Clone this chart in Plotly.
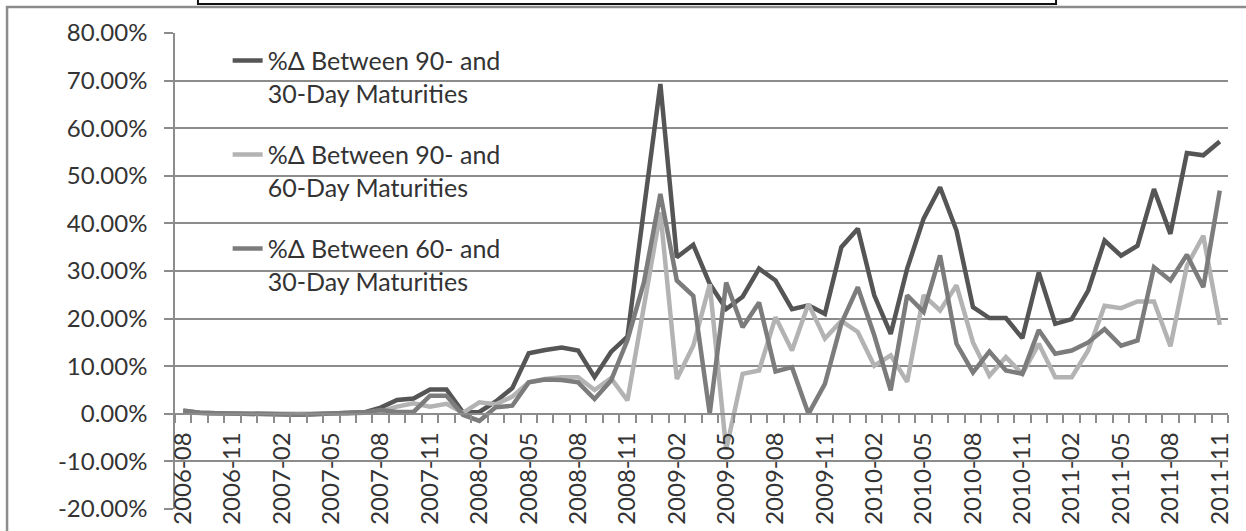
import plotly.graph_objects as go

months = [
    "2006-08", "2006-09", "2006-10", "2006-11", "2006-12",
    "2007-01", "2007-02", "2007-03", "2007-04", "2007-05", "2007-06",
    "2007-07", "2007-08", "2007-09", "2007-10", "2007-11", "2007-12",
    "2008-01", "2008-02", "2008-03", "2008-04", "2008-05", "2008-06",
    "2008-07", "2008-08", "2008-09", "2008-10", "2008-11", "2008-12",
    "2009-01", "2009-02", "2009-03", "2009-04", "2009-05", "2009-06",
    "2009-07", "2009-08", "2009-09", "2009-10", "2009-11", "2009-12",
    "2010-01", "2010-02", "2010-03", "2010-04", "2010-05", "2010-06",
    "2010-07", "2010-08", "2010-09", "2010-10", "2010-11", "2010-12",
    "2011-01", "2011-02", "2011-03", "2011-04", "2011-05", "2011-06",
    "2011-07", "2011-08", "2011-09", "2011-10", "2011-11",
]

# % change between 90- and 30-day maturities
spread_90_30 = [
    0.6, 0.2, 0.1, 0.1, 0.0, -0.1, -0.1, -0.2, -0.1, 0.0, 0.0,
    0.3, 1.3, 2.9, 3.2, 5.1, 5.1, 0.3, 0.4, 2.6, 5.4, 12.7, 13.4,
    13.9, 13.3, 7.7, 13.0, 16.2, 43.0, 69.3, 32.9, 35.5, 27.3, 22.0, 24.6,
    30.5, 28.0, 22.0, 22.8, 21.0, 35.0, 38.9, 24.9, 16.8, 30.5, 41.0, 47.6,
    38.5, 22.4, 20.1, 20.1, 15.9, 29.7, 18.9, 19.9, 25.9, 36.4, 33.2, 35.3,
    47.2, 37.8, 54.8, 54.3, 57.2,
]

# % change between 90- and 60-day maturities
spread_90_60 = [
    0.3, 0.1, 0.0, 0.0, 0.0, -0.1, -0.1, -0.2, -0.1, 0.0, 0.0,
    0.2, 0.5, 1.5, 2.2, 1.5, 2.1, 0.2, 2.4, 2.0, 3.6, 6.6, 7.3,
    7.7, 7.7, 5.0, 7.5, 2.8, 22.0, 42.3, 7.3, 14.3, 27.2, -7.5, 8.4,
    9.1, 20.3, 13.3, 23.1, 15.8, 19.5, 17.2, 10.1, 12.3, 6.7, 24.9, 21.7,
    27.0, 15.0, 8.0, 11.9, 8.4, 14.7, 7.7, 7.7, 13.3, 22.7, 22.2, 23.6,
    23.6, 14.2, 31.1, 37.4, 18.7,
]

# % change between 60- and 30-day maturities
spread_60_30 = [
    0.7, 0.2, 0.1, 0.1, 0.0, -0.1, -0.1, -0.2, -0.1, 0.0, 0.0,
    0.3, 0.8, 0.4, 0.4, 3.8, 3.8, -0.2, -1.5, 1.4, 1.7, 6.6, 7.2,
    7.1, 6.6, 3.1, 7.0, 15.5, 27.6, 46.2, 28.0, 24.8, 0.0, 27.6, 18.2,
    23.4, 8.9, 9.8, 0.0, 6.3, 19.0, 26.6, 16.5, 4.9, 24.9, 21.4, 33.3,
    14.7, 8.7, 13.1, 9.1, 8.4, 17.6, 12.6, 13.3, 15.0, 17.8, 14.3, 15.4,
    30.8, 28.0, 33.4, 26.6, 46.9,
]

series_names = [
    "%Δ Between 90- and<br>30-Day Maturities",
    "%Δ Between 90- and<br>60-Day Maturities",
    "%Δ Between 60- and<br>30-Day Maturities",
]
series_values = [spread_90_30, spread_90_60, spread_60_30]
series_colors = ["#555555", "#b3b3b3", "#7c7c7c"]

x_tick_labels = months[::3]
y_tick_values = [-20, -10, 0, 10, 20, 30, 40, 50, 60, 70, 80]
y_tick_labels = ["-20.00%", "-10.00%", "0.00%", "10.00%", "20.00%", "30.00%",
                 "40.00%", "50.00%", "60.00%", "70.00%", "80.00%"]

FONT = "Lato"
GRID = "#8c8c8c"
TEXT = "#333333"

fig = go.Figure()
for name, vals, col, grp in zip(series_names, series_values, series_colors, ["a", "b", "c"]):
    fig.add_trace(go.Scatter(
        x=months, y=vals, mode="lines", name=name, legendgroup=grp,
        line=dict(color=col, width=4.5),
        hovertemplate="%{x}: %{y:.2f}%<extra></extra>",
    ))

# helper trace so the boundary-tick axis exists
fig.add_trace(go.Scatter(x=[], y=[], xaxis="x2", showlegend=False, hoverinfo="skip"))

n = len(months)
fig.update_layout(
    width=1246, height=531,
    margin=dict(l=175, r=18, t=33, b=22, autoexpand=False),
    paper_bgcolor="white", plot_bgcolor="white",
    font=dict(family=FONT, size=24, color=TEXT),
    showlegend=True,
    legend=dict(
        x=0.05, y=0.99, xanchor="left", yanchor="top",
        bgcolor="rgba(0,0,0,0)", font=dict(family=FONT, size=25, color=TEXT),
        traceorder="grouped", tracegroupgap=26, valign="top",
    ),
    xaxis=dict(
        type="category", categoryorder="array", categoryarray=months,
        range=[-0.5, n - 0.5], automargin=False,
        tickmode="array", tickvals=x_tick_labels, ticktext=x_tick_labels,
        tickangle=-90, ticks="outside", ticklen=8, tickcolor="rgba(0,0,0,0)",
        ticklabelstandoff=0,
        showgrid=False, showline=False, zeroline=False,
        anchor="free", position=0.2,
        tickfont=dict(family=FONT, size=24, color=TEXT),
    ),
    xaxis2=dict(
        overlaying="x", type="linear", range=[-0.5, n - 0.5], automargin=False,
        tickmode="linear", tick0=-0.5, dtick=1,
        ticks="outside", ticklen=8, tickwidth=1.5, tickcolor=GRID,
        showticklabels=False, showgrid=False, zeroline=False,
        showline=True, linecolor=GRID, linewidth=1.5,
        anchor="free", position=0.2,
    ),
    yaxis=dict(
        range=[-20, 80], tickmode="array", tickvals=y_tick_values,
        ticktext=y_tick_labels, automargin=False,
        showgrid=True, gridcolor=GRID, gridwidth=1.5,
        showline=True, linecolor=GRID, linewidth=1.5,
        ticks="outside", ticklen=9, tickwidth=1.5, tickcolor=GRID,
        ticklabelstandoff=12, zeroline=False,
        tickfont=dict(family=FONT, size=24, color=TEXT),
    ),
    shapes=[
        # outer chart border
        dict(type="rect", xref="paper", yref="paper",
             x0=-0.1595, x1=1.03, y0=-0.07, y1=1.0546,
             line=dict(color="#8c8c8c", width=2.5), layer="below"),
        # partially visible title box at top
        dict(type="rect", xref="paper", yref="paper",
             x0=0.0218, x1=0.8367, y0=1.0609, y1=1.2,
             line=dict(color="#111111", width=2), fillcolor="white"),
    ],
)

fig.write_html(
    "out.html",
    config={"displayModeBar": False},
    post_script="document.body.style.margin='0';document.body.style.overflow='hidden';",
)
